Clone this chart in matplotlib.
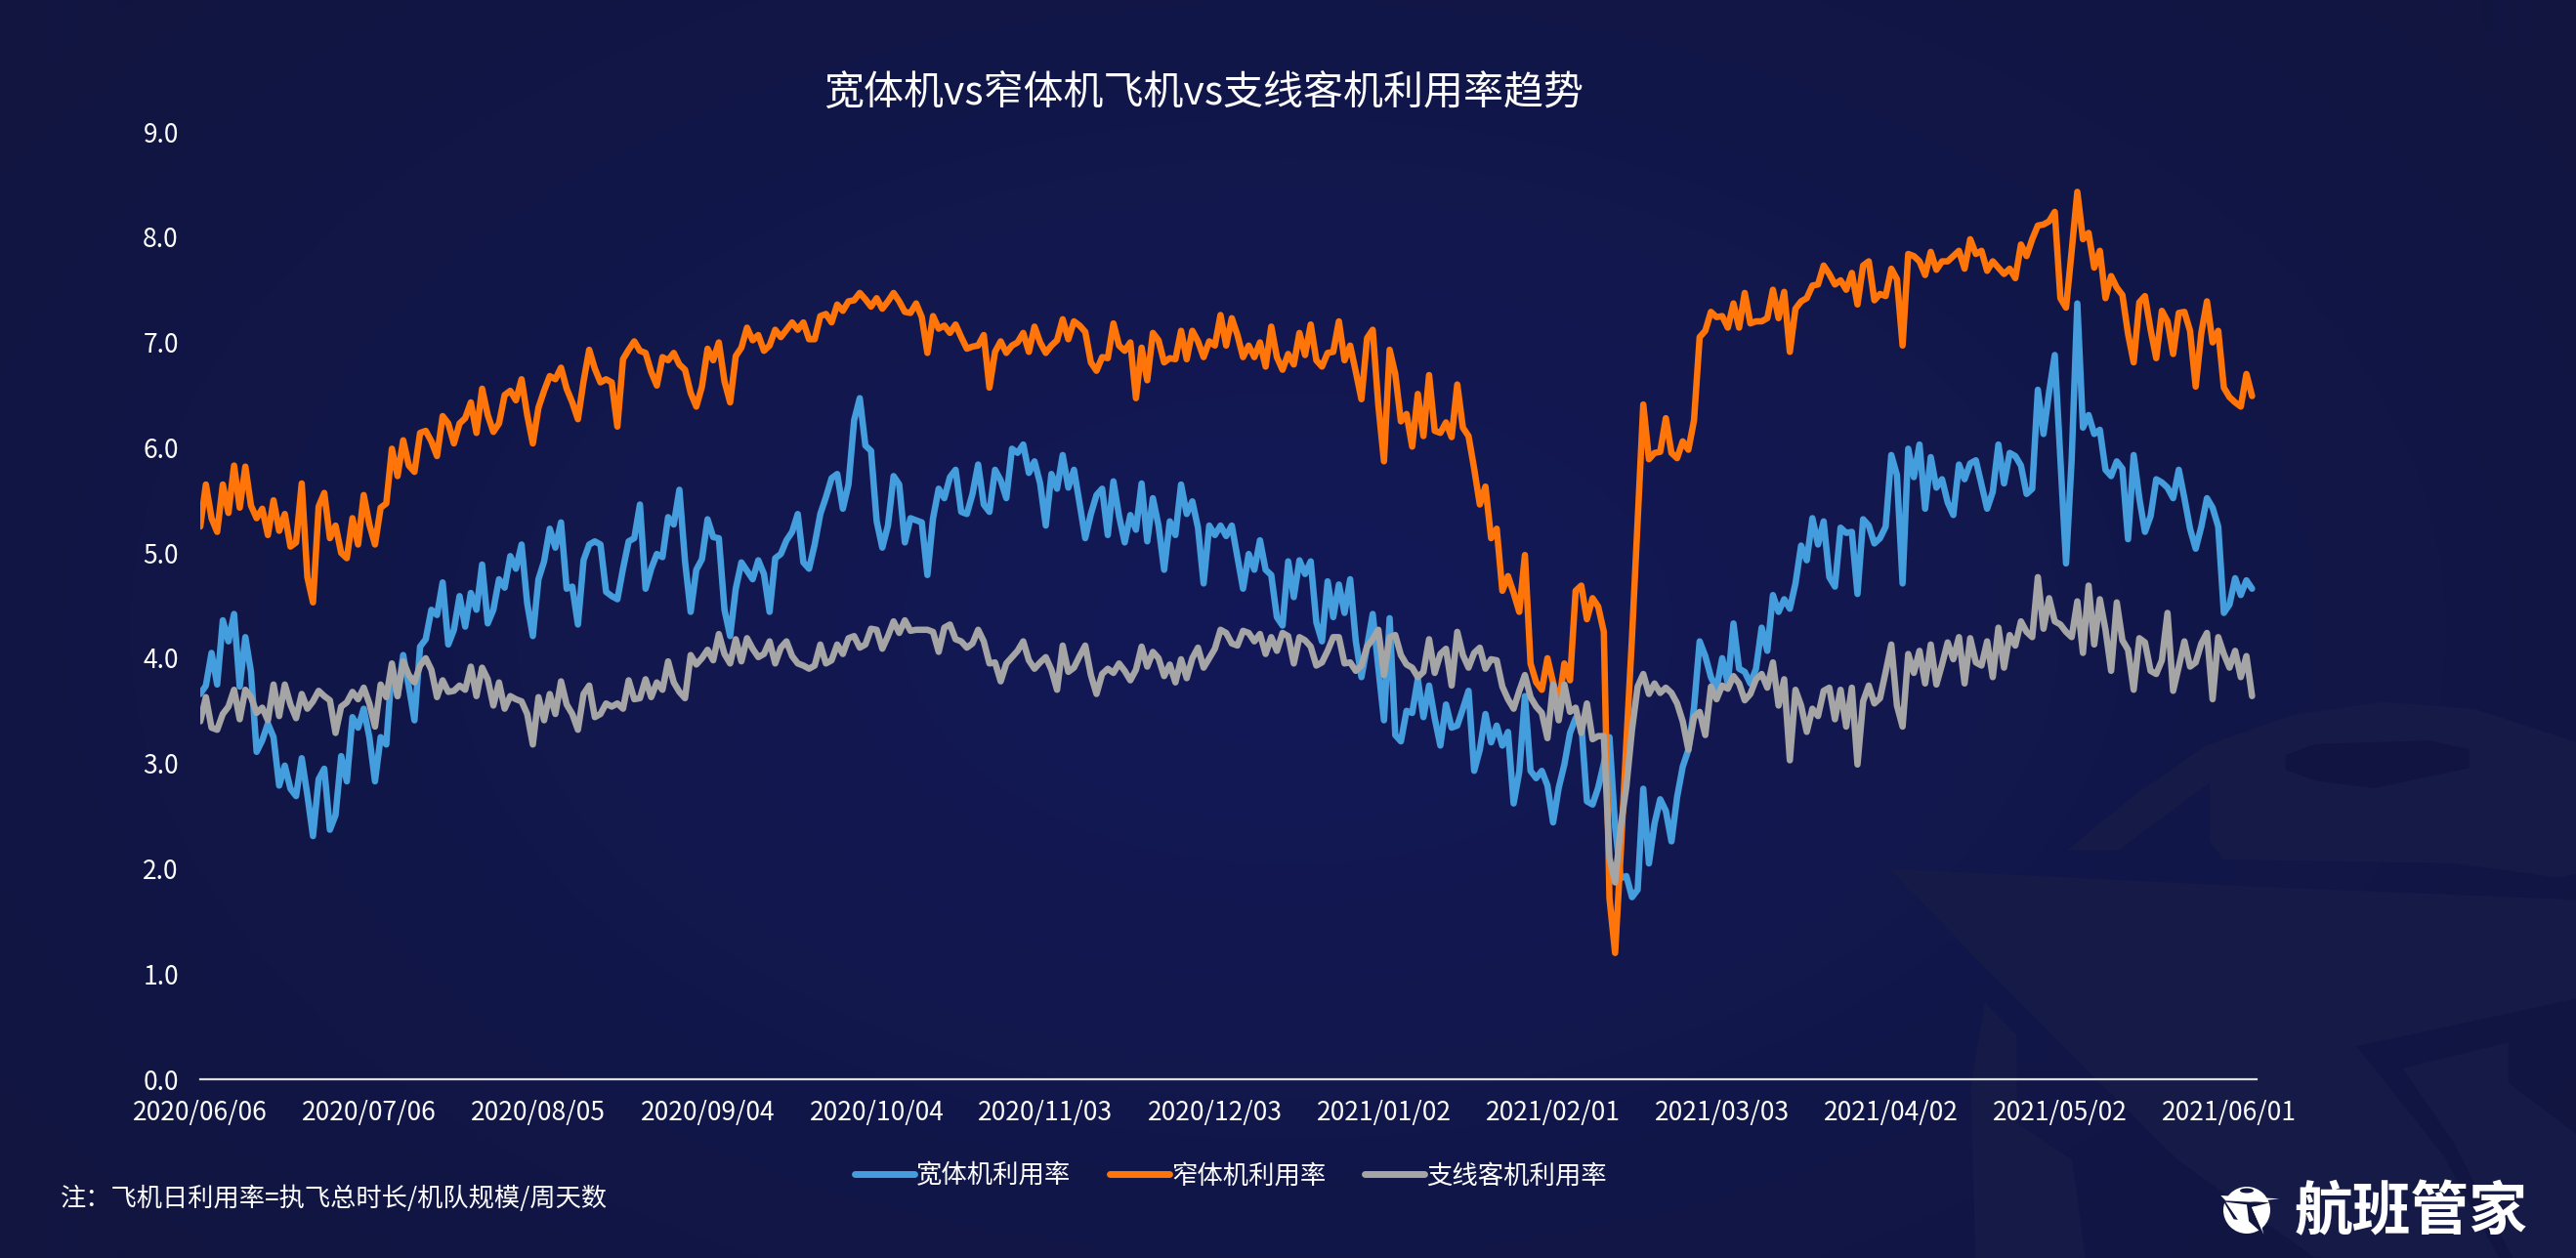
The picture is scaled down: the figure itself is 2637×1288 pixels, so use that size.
import numpy as np
import matplotlib
matplotlib.use("Agg")
import matplotlib.pyplot as plt
from matplotlib.lines import Line2D
from matplotlib.patches import Polygon, Circle, Ellipse

plt.rcParams['font.family'] = ['Noto Sans CJK SC', 'DejaVu Sans']

tick_labels = ['2020/06/06', '2020/07/06', '2020/08/05', '2020/09/04', '2020/10/04', '2020/11/03',
               '2020/12/03', '2021/01/02', '2021/02/01', '2021/03/03', '2021/04/02', '2021/05/02',
               '2021/06/01']

wide_body = [
    3.66, 3.74, 4.05, 3.75, 4.36, 4.16, 4.42, 3.73, 4.2, 3.87,
    3.11, 3.22, 3.38, 3.25, 2.79, 2.98, 2.76, 2.69, 3.05, 2.7,
    2.31, 2.85, 2.95, 2.37, 2.51, 3.07, 2.83, 3.44, 3.34, 3.52,
    3.25, 2.83, 3.25, 3.18, 3.91,
    3.64, 4.03, 3.73, 3.41, 4.11, 4.18, 4.46, 4.41, 4.72, 4.13,
    4.27, 4.59, 4.3, 4.62, 4.46, 4.89, 4.33, 4.46, 4.75, 4.67,
    4.97, 4.85, 5.08, 4.52, 4.21, 4.75, 4.92, 5.23, 5.05, 5.29,
    4.66, 4.68, 4.32, 4.93, 5.08, 5.11, 5.08, 4.63, 4.59, 4.56,
    4.85, 5.11, 5.14, 5.46, 4.66, 4.85, 4.99, 4.96, 5.34, 5.27,
    5.6, 4.92, 4.44, 4.84, 4.94, 5.32, 5.15, 5.14, 4.46, 4.21,
    4.66, 4.91, 4.83, 4.75, 4.93, 4.8, 4.44, 4.95, 4.99, 5.12,
    5.2, 5.37, 4.91, 4.85, 5.08, 5.37, 5.53, 5.71, 5.75, 5.42,
    5.65, 6.26, 6.47, 6.02, 5.97, 5.3, 5.05, 5.26, 5.73, 5.65,
    5.1, 5.33, 5.31, 5.29, 4.79, 5.33,
    5.61, 5.52, 5.72, 5.79, 5.39, 5.37, 5.56, 5.84, 5.46,
    5.39, 5.79, 5.69, 5.52, 5.99, 5.95, 6.03, 5.76, 5.87, 5.66,
    5.26, 5.75, 5.61, 5.93, 5.62, 5.79, 5.47, 5.14, 5.37, 5.55,
    5.61, 5.17, 5.68, 5.35, 5.1, 5.36, 5.22, 5.66, 5.11, 5.52,
    5.26, 4.84, 5.3, 5.17, 5.65, 5.37, 5.49, 5.24, 4.71, 5.26,
    5.17, 5.26, 5.16, 5.26, 4.96, 4.66, 4.99, 4.84, 5.12, 4.84,
    4.79, 4.39, 4.31, 4.92, 4.58, 4.93, 4.8, 4.92, 4.34, 4.16,
    4.73, 4.39, 4.7, 4.43, 4.75, 4.16, 3.82, 4.11, 4.42, 3.91,
    3.41, 4.38, 3.27, 3.21, 3.5, 3.48, 3.8, 3.44, 3.74, 3.43,
    3.17, 3.56, 3.34, 3.36, 3.52, 3.69, 2.93, 3.13, 3.47, 3.2,
    3.36, 3.17, 3.3, 2.62, 2.92, 3.64, 2.93, 2.86, 2.93, 2.79,
    2.44, 2.77, 2.99, 3.29, 3.43, 3.38, 2.64, 2.61, 2.77, 3.0,
    3.25, 2.4, 1.91, 1.93, 1.73, 1.8,
    2.76, 2.05, 2.43, 2.66, 2.55, 2.26, 2.68, 2.97, 3.13, 3.53,
    4.16, 4.02, 3.82, 3.71, 4.0, 3.76, 4.33, 3.9, 3.87, 3.76,
    3.9, 4.29, 4.07, 4.6, 4.44, 4.56, 4.47, 4.71, 5.07, 4.93,
    5.33, 5.08, 5.3, 4.77, 4.68, 5.24, 5.19, 5.2, 4.61, 5.32,
    5.26, 5.09, 5.14, 5.25, 5.93, 5.74, 4.71, 5.99, 5.72, 6.03,
    5.42, 5.91, 5.62, 5.7, 5.48, 5.36, 5.84, 5.7, 5.85, 5.88,
    5.65, 5.42, 5.58, 6.03, 5.66, 5.95, 5.92, 5.83, 5.56, 5.61,
    6.55, 6.13, 6.53, 6.88, 5.89, 4.9, 5.89, 7.37, 6.19, 6.31,
    6.13, 6.17, 5.79, 5.73, 5.87, 5.8, 5.13, 5.93, 5.52, 5.2,
    5.35, 5.7, 5.67, 5.62, 5.52, 5.79, 5.52, 5.23, 5.04, 5.25,
    5.52, 5.43, 5.25, 4.43, 4.51, 4.76, 4.6, 4.74, 4.66,
]

narrow_body = [
    5.25, 5.65, 5.33, 5.2, 5.65, 5.38, 5.83, 5.43, 5.82, 5.45,
    5.33, 5.42, 5.17, 5.5, 5.21, 5.37, 5.06, 5.1, 5.66, 4.77,
    4.53, 5.44, 5.57, 5.14, 5.26, 5.0, 4.95, 5.33, 5.08, 5.55,
    5.27, 5.08, 5.43, 5.47, 5.99, 5.73, 6.07, 5.83, 5.77, 6.14,
    6.16, 6.06, 5.92, 6.3, 6.23, 6.04, 6.23, 6.28, 6.43, 6.14,
    6.56, 6.31, 6.15, 6.23, 6.5, 6.54, 6.45, 6.65, 6.31, 6.04,
    6.38, 6.54, 6.68, 6.65, 6.76, 6.56, 6.43, 6.27, 6.63, 6.93,
    6.75, 6.62, 6.65, 6.62, 6.2, 6.84, 6.93, 7.01, 6.92, 6.9,
    6.72, 6.59, 6.86, 6.83, 6.9, 6.79, 6.74, 6.52, 6.39, 6.58,
    6.94, 6.83, 7.0, 6.63, 6.43, 6.87, 6.95, 7.14, 7.02, 7.07,
    6.92, 6.97, 7.12, 7.05, 7.12, 7.19, 7.12, 7.19, 7.03, 7.03,
    7.25, 7.27, 7.19, 7.36, 7.3, 7.39, 7.4, 7.47, 7.41, 7.34,
    7.42, 7.32, 7.39, 7.47, 7.39, 7.29, 7.28, 7.37, 7.24, 6.9,
    7.25, 7.13, 7.16, 7.09, 7.17, 7.05, 6.94, 6.96, 6.97, 7.07,
    6.57, 6.91, 7.01, 6.9, 6.97, 7.0, 7.09, 6.91, 7.15, 7.0,
    6.9, 6.97, 7.02, 7.22, 7.03, 7.2, 7.16, 7.1, 6.81, 6.73,
    6.86, 6.85, 7.18, 6.97, 6.92, 7.0, 6.47, 6.95, 6.64, 7.09,
    7.02, 6.81, 6.85, 6.84, 7.11, 6.84, 7.11, 7.01, 6.86, 7.01,
    6.97, 7.26, 6.97, 7.23, 7.07, 6.86, 6.97, 6.86, 7.0, 6.77,
    7.15, 6.86, 6.74, 6.89, 6.79, 7.09, 6.88, 7.17, 6.83, 6.77,
    6.9, 6.91, 7.2, 6.83, 6.97, 6.72, 6.46, 7.04, 7.12, 6.4,
    5.87, 6.93, 6.7, 6.25, 6.32, 6.01, 6.51, 6.11, 6.69, 6.16,
    6.14, 6.24, 6.1, 6.6, 6.19, 6.11, 5.8, 5.46, 5.63, 5.14,
    5.23, 4.64, 4.78, 4.62, 4.44, 4.98, 3.95, 3.77, 3.7, 4.0,
    3.77, 3.56, 3.95, 3.79, 4.64, 4.69, 4.37, 4.57, 4.49, 4.25,
    1.72, 1.2, 2.15, 3.2, 4.2, 5.3, 6.41,
    5.89, 5.95, 5.96, 6.28, 5.95, 5.9, 6.06, 5.98, 6.26, 7.05,
    7.11, 7.29, 7.24, 7.25, 7.14, 7.37, 7.14, 7.47, 7.18, 7.2, 7.2, 7.23,
    7.5, 7.23, 7.48, 6.91, 7.32, 7.39, 7.42, 7.54, 7.55, 7.73,
    7.65, 7.55, 7.59, 7.5, 7.66, 7.36, 7.73, 7.77, 7.4, 7.46,
    7.44, 7.7, 7.6, 6.97, 7.84, 7.82, 7.77, 7.64, 7.86, 7.69,
    7.77, 7.77, 7.82, 7.87, 7.7, 7.98, 7.84, 7.87, 7.68, 7.77,
    7.71, 7.65, 7.7, 7.61, 7.93, 7.82, 7.98, 8.11, 8.12, 8.15,
    8.24, 7.42, 7.33, 7.87, 8.43, 7.98, 8.04, 7.71, 7.87, 7.42,
    7.63, 7.52, 7.45, 7.08, 6.81, 7.38, 7.44, 7.12, 6.85, 7.3,
    7.2, 6.89, 7.28, 7.29, 7.11, 6.58, 7.09, 7.39, 7.0, 7.11,
    6.57, 6.48, 6.43, 6.39, 6.7, 6.49,
]

regional = [
    3.4, 3.63, 3.34, 3.32, 3.47, 3.54, 3.7, 3.42, 3.7, 3.63,
    3.48, 3.53, 3.41, 3.75, 3.45, 3.75, 3.56, 3.43, 3.66, 3.52,
    3.59, 3.69, 3.64, 3.6, 3.29, 3.54, 3.58, 3.68, 3.61, 3.72,
    3.57, 3.35, 3.75, 3.63, 3.95, 3.64, 3.97, 3.84, 3.77, 3.93,
    4.0, 3.89, 3.63, 3.79, 3.68, 3.69, 3.74, 3.7, 3.92, 3.64,
    3.91, 3.8, 3.55, 3.77, 3.52, 3.64, 3.61, 3.59, 3.47, 3.18,
    3.63, 3.41, 3.66, 3.47, 3.78, 3.56, 3.47, 3.32, 3.66, 3.74,
    3.44, 3.47, 3.57, 3.54, 3.57, 3.52, 3.79, 3.61, 3.62, 3.8,
    3.63, 3.77, 3.7, 3.97, 3.77, 3.68, 3.62, 4.03, 3.94, 4.0,
    4.08, 3.98, 4.23, 4.04, 3.95, 4.18, 3.97, 4.19, 4.09, 4.01,
    4.04, 4.16, 3.95, 4.1, 4.16, 4.02, 3.95, 3.93, 3.9, 3.93,
    4.13, 3.95, 3.98, 4.13, 4.04, 4.19, 4.21, 4.1, 4.13, 4.28,
    4.27, 4.09, 4.21, 4.35, 4.24, 4.36, 4.26, 4.27, 4.27, 4.27,
    4.25, 4.06, 4.29, 4.32, 4.18, 4.16, 4.1, 4.14, 4.27, 4.16,
    3.95, 3.96, 3.78, 3.95, 4.01, 4.07, 4.16, 3.98, 3.9, 3.96,
    4.01, 3.89, 3.7, 4.12, 3.87, 3.91, 4.02, 4.12, 3.84, 3.66,
    3.85, 3.9, 3.86, 3.95, 3.88, 3.79, 3.89, 4.11, 3.92, 4.06,
    4.0, 3.83, 3.94, 3.77, 3.99, 3.81, 4.0, 4.1, 3.91, 4.0,
    4.09, 4.27, 4.24, 4.14, 4.12, 4.26, 4.24, 4.16, 4.23, 4.04,
    4.2, 4.07, 4.24, 4.21, 3.95, 4.2, 4.17, 4.11, 3.93, 3.96,
    4.07, 4.2, 4.2, 3.95, 3.96, 3.88, 3.93, 4.11, 4.18, 4.27,
    3.84, 4.2, 4.22, 4.03, 3.94, 3.91, 3.82, 3.87, 4.18, 3.86,
    4.04, 4.09, 3.74, 4.25, 4.03, 3.91, 4.05, 4.1, 3.9, 3.99,
    3.98, 3.73, 3.61, 3.52, 3.69, 3.84, 3.63, 3.54, 3.48, 3.24,
    3.75, 3.41, 3.75, 3.49, 3.53, 3.29, 3.57, 3.23, 3.26, 3.26,
    2.1, 1.87, 2.4, 2.78, 3.32, 3.73, 3.85, 3.66, 3.76, 3.67,
    3.72, 3.67, 3.57, 3.4, 3.13, 3.44, 3.49, 3.27, 3.73, 3.61,
    3.74, 3.71, 3.83, 3.76, 3.6, 3.66, 3.8, 3.85, 3.72, 3.96,
    3.55, 3.8, 3.03, 3.7, 3.55, 3.3, 3.52, 3.45, 3.69, 3.72,
    3.42, 3.7, 3.35, 3.72, 2.99, 3.59, 3.74, 3.57, 3.62, 3.87,
    4.13, 3.55, 3.35, 4.04, 3.86, 4.07, 3.76, 4.13, 3.75, 3.94,
    4.15, 3.99, 4.2, 3.76, 4.19, 3.96, 3.93, 4.16, 3.82, 4.29,
    3.91, 4.22, 4.12, 4.35, 4.25, 4.2, 4.77, 4.28, 4.57, 4.35,
    4.32, 4.25, 4.2, 4.54, 4.05, 4.69, 4.13, 4.56, 4.27, 3.88,
    4.53, 4.17, 4.08, 3.7, 4.19, 4.15, 3.88, 3.85, 3.98, 4.43,
    3.69, 3.92, 4.16, 3.92, 3.96, 4.14, 4.24, 3.61, 4.2, 4.04,
    3.91, 4.07, 3.82, 4.02, 3.64,
]

W, H = 2637, 1288
fig = plt.figure(figsize=(W / 100, H / 100), dpi=100)

# background glow
bg = fig.add_axes([0, 0, 1, 1], zorder=-2)
bg.set_axis_off()
xx, yy = np.meshgrid(np.linspace(0, 1, 660), np.linspace(0, 1, 322))
r = np.clip(np.sqrt(((xx - 0.5) / 0.6) ** 2 + ((yy - 0.5) / 0.75) ** 2), 0, 1)[..., None]
inner = np.array([0x13, 0x19, 0x58]) / 255
outer = np.array([0x11, 0x15, 0x40]) / 255
bg.imshow(inner + (outer - inner) * r, extent=(0, W, H, 0), aspect='auto', interpolation='bilinear')
bg.set_xlim(0, W)
bg.set_ylim(H, 0)


def wm(points, color='#151a46'):
    # watermark outlines read from the bottom right corner
    pts = [(1900 + x / 2.127, 700 + y / 2.667) for x, y in points]
    bg.add_patch(Polygon(pts, closed=True, facecolor=color, edgecolor='none'))


wm([(460, 455), (600, 310), (760, 170), (950, 85), (1150, 50), (1350, 70), (1568, 160), (1568, 520),
    (1530, 530), (1300, 490), (800, 480), (770, 430), (770, 270), (570, 455)])
wm([(935, 195), (1000, 165), (1250, 155), (1335, 180), (1335, 230), (1130, 285), (1000, 265), (935, 235)],
   color='#111440')
wm([(70, 505), (800, 550), (1568, 590), (1568, 860), (1090, 990), (1280, 1290), (1400, 1568), (1000, 1568),
    (700, 1300), (300, 800)])
wm([(280, 870), (350, 960), (350, 1200), (470, 1300), (500, 1568), (260, 1568), (250, 1100)])
wm([(1190, 1050), (1420, 980), (1420, 1090), (1568, 1230), (1568, 1568), (1430, 1568), (1300, 1250)])


def logo(points, color):
    pts = [(2260 + x / 3, 1200 + y / 3) for x, y in points]
    bg.add_patch(Polygon(pts, closed=True, facecolor=color, edgecolor='none'))


# logo globe with the plane cut out of it
bg.add_patch(Circle((2300, 1239), 24, facecolor='white', edgecolor='none'))
bg.add_patch(Ellipse((2300, 1219), 14, 5, facecolor='#12163f', edgecolor='none'))
logo([(45, 84), (190, 94), (135, 108), (172, 192), (125, 150), (80, 145)], '#12163f')
logo([(40, 72), (220, 82), (130, 92), (55, 88)], 'white')
logo([(55, 92), (120, 100), (128, 165), (95, 150)], 'white')
logo([(135, 108), (150, 105), (172, 192)], 'white')
fig.text(2349 / W, 1 - 1242 / H, '航班管家', color='white', fontsize=43, fontweight='bold', ha='left', va='center')

ax = fig.add_axes([205 / W, 1 - 1105 / H, (2310 - 205) / W, (1105 - 135) / H])
ax.patch.set_alpha(0)
x = np.arange(len(wide_body))
ax.plot(x, wide_body, color='#449ddd', lw=4.7, solid_joinstyle='round', solid_capstyle='round')
ax.plot(x, narrow_body, color='#ff7509', lw=4.7, solid_joinstyle='round', solid_capstyle='round')
ax.plot(x, regional, color='#a5a5a5', lw=4.7, solid_joinstyle='round', solid_capstyle='round')

ax.set_xlim(0, 364.8)
ax.set_ylim(0, 9)
ax.set_xticks(np.arange(0, 361, 30))
ax.set_xticklabels(tick_labels)
ax.set_yticks(np.arange(0, 10))
ax.set_yticklabels([f'{v:.1f}' for v in np.arange(0, 10.0)])
ax.tick_params(axis='both', length=0, colors='white', labelsize=19)
ax.tick_params(axis='x', pad=15)
ax.tick_params(axis='y', pad=16)
for side in ['top', 'left', 'right']:
    ax.spines[side].set_visible(False)
ax.spines['bottom'].set_color('#dddddd')
ax.spines['bottom'].set_linewidth(1.6)

fig.text(1232 / W, 1 - 96 / H, '宽体机vs窄体机飞机vs支线客机利用率趋势', color='white', fontsize=29.5,
         ha='center', va='center')
fig.text(62 / W, 1 - 1227 / H, '注：飞机日利用率=执飞总时长/机队规模/周天数', color='white', fontsize=18.9,
         ha='left', va='center')

handles = [Line2D([], [], color=c, lw=5, solid_capstyle='round') for c in ['#449ddd', '#ff7509', '#a5a5a5']]
leg = fig.legend(handles, ['宽体机利用率', '窄体机利用率', '支线客机利用率'], ncol=3, frameon=False,
                 loc='center', bbox_to_anchor=(1260 / W, 1 - 1204 / H), fontsize=19, handlelength=2.3,
                 handletextpad=0.1, columnspacing=1.5, labelcolor='white')

fig.savefig('out.png', dpi=100)
